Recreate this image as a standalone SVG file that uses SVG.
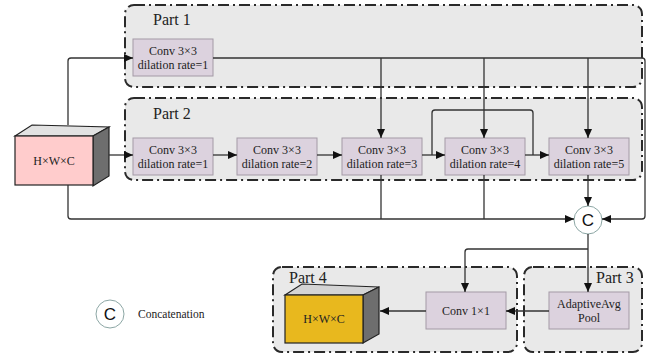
<svg xmlns="http://www.w3.org/2000/svg" width="653" height="355" viewBox="0 0 653 355">
<style>
.part{fill:#e9e9e9;stroke:#2a2a2a;stroke-width:2;stroke-dasharray:11,4,2,4}
.box{fill:#dcd2de;stroke:#a49aa6;stroke-width:1}
.t{font-family:"Liberation Serif","Times New Roman",serif;font-size:12px;fill:#222;text-anchor:middle}
.pl{font-family:"Liberation Serif","Times New Roman",serif;font-size:16px;fill:#222}
.ln{fill:none;stroke:#333;stroke-width:1.3}
.arr{marker-end:url(#ah)}
.cc{fill:#fff;stroke:#7f9c9a;stroke-width:0.9}
.ct{font-family:"Liberation Sans",Arial,sans-serif;font-size:17px;fill:#111;text-anchor:middle}
</style>
<defs>
<marker id="ah" markerUnits="userSpaceOnUse" markerWidth="9" markerHeight="8" refX="9" refY="4" orient="auto">
<path d="M0,0 L9,4 L0,8 z" fill="#111"/>
</marker>
</defs>
<g id="part1">
<rect class="part" x="125" y="5" width="517" height="82" rx="9"/>
<text class="pl" x="153" y="25">Part 1</text>
</g>
<g id="part2">
<rect class="part" x="125" y="98" width="517" height="82" rx="9"/>
<text class="pl" x="153" y="119">Part 2</text>
</g>
<g id="part4">
<rect class="part" x="273" y="267" width="244" height="85" rx="9"/>
<text class="pl" x="289" y="283">Part 4</text>
</g>
<g id="part3">
<rect class="part" x="524" y="267" width="118" height="85" rx="9"/>
<text class="pl" x="596" y="283">Part 3</text>
</g>
<g id="input">
<polygon points="15,136 32,125 109,127 93,136" fill="#e2e2e2" stroke="#222" stroke-width="1.2"/>
<polygon points="93,136 109,127 109,176 93,186" fill="#6e6e6e" stroke="#222" stroke-width="1.2"/>
<rect x="15" y="136" width="78" height="49" fill="#ffcccc" stroke="#222" stroke-width="1.2"/>
<text class="t" x="54" y="165">H×W×C</text>
</g>
<g id="p1conv">
<rect class="box" x="133" y="39" width="80" height="37"/>
<text class="t" x="173" y="55">Conv 3×3</text>
<text class="t" x="173" y="69">dilation rate=1</text>
</g>
<g id="conv1">
<rect class="box" x="133" y="138" width="80" height="37"/>
<text class="t" x="173" y="154">Conv 3×3</text>
<text class="t" x="173" y="168">dilation rate=1</text>
</g>
<g id="conv2">
<rect class="box" x="237" y="138" width="80" height="37"/>
<text class="t" x="277" y="154">Conv 3×3</text>
<text class="t" x="277" y="168">dilation rate=2</text>
</g>
<g id="conv3">
<rect class="box" x="342" y="138" width="80" height="37"/>
<text class="t" x="382" y="154">Conv 3×3</text>
<text class="t" x="382" y="168">dilation rate=3</text>
</g>
<g id="conv4">
<rect class="box" x="445" y="138" width="80" height="37"/>
<text class="t" x="485" y="154">Conv 3×3</text>
<text class="t" x="485" y="168">dilation rate=4</text>
</g>
<g id="conv5">
<rect class="box" x="549" y="138" width="80" height="37"/>
<text class="t" x="589" y="154">Conv 3×3</text>
<text class="t" x="589" y="168">dilation rate=5</text>
</g>
<g id="pool">
<rect class="box" x="549" y="292" width="80" height="37"/>
<text class="t" x="589" y="308">AdaptiveAvg</text>
<text class="t" x="589" y="322">Pool</text>
</g>
<g id="conv1x1">
<rect class="box" x="426" y="292" width="80" height="37"/>
<text class="t" x="466" y="315">Conv 1×1</text>
</g>
<g id="output">
<polygon points="285,295 302,284 379,287 363,295" fill="#d4d4d4" stroke="#222" stroke-width="1.2"/>
<polygon points="363,295 379,287 379,334 363,343" fill="#6e6e6e" stroke="#222" stroke-width="1.2"/>
<rect x="285" y="295" width="78" height="48" fill="#e8b81e" stroke="#222" stroke-width="1.2"/>
<text class="t" x="324" y="323">H×W×C</text>
</g>
<g id="concat">
<circle class="cc" cx="588" cy="220" r="14"/>
<text class="ct" x="588" y="226">C</text>
</g>
<g id="legend">
<circle class="cc" cx="110" cy="314" r="14"/>
<text class="ct" x="110" y="320">C</text>
<text x="138" y="318" font-family="Liberation Serif,Times New Roman,serif" font-size="11.5" fill="#222">Concatenation</text>
</g>
<g id="connectors">
<path class="ln arr" d="M68,125 V61 Q68,58 71,58 H133"/>
<path class="ln arr" d="M213,58 H642 Q645,58 645,61 V216 Q645,219 642,219 H602"/>
<path class="ln arr" d="M381,58 V138"/>
<path class="ln arr" d="M484,58 V138"/>
<path class="ln arr" d="M588,58 V138"/>
<path class="ln arr" d="M109,155 H133"/>
<path class="ln arr" d="M213,155 H237"/>
<path class="ln arr" d="M317,155 H342"/>
<path class="ln arr" d="M422,155 H445"/>
<path class="ln arr" d="M525,155 H549"/>
<path class="ln" d="M432,155 V113 Q432,110 435,110 H530 Q533,110 533,113 V155"/>
<path class="ln arr" d="M68,185 V216 Q68,219 71,219 H574"/>
<path class="ln" d="M381,175 V219"/>
<path class="ln" d="M484,175 V219"/>
<path class="ln arr" d="M588,175 V206"/>
<path class="ln arr" d="M588,234 V292"/>
<path class="ln arr" d="M588,249 H468 Q465,249 465,252 V292"/>
<path class="ln arr" d="M549,311 H506"/>
<path class="ln arr" d="M426,311 H380"/>
</g>
</svg>
